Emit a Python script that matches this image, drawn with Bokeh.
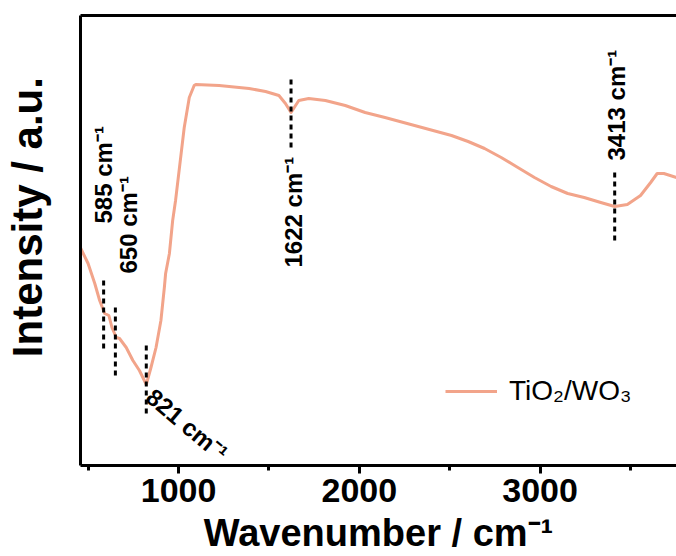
import math
from bokeh.plotting import figure
from bokeh.models import (Range1d, LinearAxis, FixedTicker, SingleIntervalTicker,
                          Legend, LegendItem, ColumnDataSource)
from bokeh.core.properties import value
from bokeh.embed import file_html
from bokeh.resources import INLINE

# ---- data ----
wavenumber = [456, 499, 536, 563, 591, 614, 631, 655, 673, 710,
              747, 783, 821, 847, 875, 902, 921, 928, 949, 967,
              983, 1031, 1059, 1086, 1095, 1224, 1390, 1481, 1555, 1591,
              1622, 1665, 1720, 1812, 1922, 2032, 2142, 2326, 2510, 2602,
              2693, 2785, 2877, 2969, 3061, 3153, 3244, 3336, 3413, 3483,
              3556, 3612, 3648, 3685, 3755]
intensity = [218, 202, 182, 165, 152, 150, 138, 128, 127, 118,
             105, 95, 81, 98, 118, 145, 178, 192, 212, 245,
             265, 338, 368, 380, 381, 380, 377, 374, 370, 362,
             353, 365, 367, 365, 360, 353, 348, 339, 330, 324,
             317, 308, 298, 288, 279, 272, 268, 263, 259, 261,
             270, 283, 292, 292, 288]

peak_wn = [585, 650, 821, 1622, 3413]
peak_y0 = [117, 90, 52, 318, 225]
peak_y1 = [187, 160, 120, 388, 293]

label_text = ["585 cm\u207b\u00b9", "650 cm\u207b\u00b9", "821 cm\u207b\u00b9",
              "1622 cm\u207b\u00b9", "3413 cm\u207b\u00b9"]
label_x = [587, 722, 840, 1636, 3424]
label_y = [242, 192, 72, 198, 305]
label_angle_deg = [90, 90, -40, 90, 90]

series_name = "TiO\u2082/WO\u2083"
x_tick_interval = 1000

FONT = "Liberation Sans"
LINE_COLOR = "#F2A48A"

p = figure(width=676, height=556, output_backend="svg", toolbar_location=None,
           x_range=Range1d(457, 3755), y_range=Range1d(0, 450),
           min_border_left=78, min_border_right=0, min_border_top=15,
           min_border_bottom=91)
p.outline_line_color = None
p.grid.visible = False
p.background_fill_color = "white"
p.border_fill_color = "white"

r = p.line(wavenumber, intensity, line_color=LINE_COLOR, line_width=3,
           line_join="round")

p.segment(x0=peak_wn, y0=peak_y0, x1=peak_wn, y1=peak_y1,
          line_color="black", line_width=3, line_dash="5 4")

src = ColumnDataSource(dict(x=label_x, y=label_y, t=label_text,
                            a=[math.radians(d) for d in label_angle_deg]))
p.text(x="x", y="y", text="t", angle="a", source=src,
       text_font=value(FONT), text_font_style="bold", text_font_size="24px",
       text_align="left", text_baseline="middle", text_color="black")

# x axis
xa = p.xaxis[0]
xa.ticker = SingleIntervalTicker(interval=x_tick_interval, num_minor_ticks=2)
xa.axis_line_width = 3
xa.axis_line_color = "black"
xa.major_tick_line_width = 3
xa.minor_tick_line_width = 3
xa.major_tick_line_color = "black"
xa.minor_tick_line_color = "black"
xa.major_tick_in = 0
xa.major_tick_out = 8
xa.minor_tick_in = 0
xa.minor_tick_out = 5
xa.major_label_text_font = FONT
xa.major_label_text_font_style = "bold"
xa.major_label_text_font_size = "34px"
xa.major_label_text_color = "black"
xa.major_label_standoff = 5
xa.axis_label = "Wavenumber / cm\u207b\u00b9"
xa.axis_label_text_font = FONT
xa.axis_label_text_font_style = "bold"
xa.axis_label_text_font_size = "38px"
xa.axis_label_text_color = "black"
xa.axis_label_standoff = 7

# y axis
ya = p.yaxis[0]
ya.ticker = FixedTicker(ticks=[])
ya.axis_line_width = 3
ya.axis_line_color = "black"
ya.major_tick_line_color = None
ya.minor_tick_line_color = None
ya.major_label_text_font_size = "0px"
ya.axis_label = "\u00a0\u00a0\u00a0\u00a0Intensity / a.u."
ya.axis_label_text_font = FONT
ya.axis_label_text_font_style = "bold"
ya.axis_label_text_font_size = "42px"
ya.axis_label_text_color = "black"
ya.axis_label_standoff = 30

# top border line
top = LinearAxis(ticker=FixedTicker(ticks=[]), axis_line_width=3,
                 axis_line_color="black",
                 major_tick_line_color=None, minor_tick_line_color=None,
                 major_label_text_font_size="0px")
p.add_layout(top, "above")

legend = Legend(items=[LegendItem(label=series_name, renderers=[r])],
                location=(365, 58), border_line_color=None,
                background_fill_alpha=0, padding=0, margin=0,
                glyph_width=52, glyph_height=30, label_standoff=12,
                label_text_font=FONT, label_text_font_size="28px",
                label_text_color="black")
p.add_layout(legend, "center")

open("out.html", "w").write(file_html(p, INLINE))
